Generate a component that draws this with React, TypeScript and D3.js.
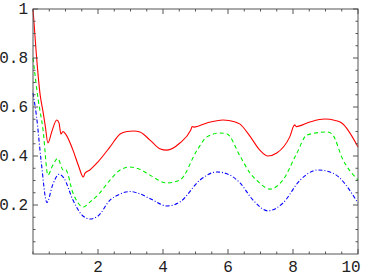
import React from "react";
import * as d3 from "d3";

// values
const redT = [0, 0.1, 0.22, 0.31, 0.38, 0.46, 0.58, 0.73, 0.8, 0.86, 0.92, 1.0, 1.23, 1.4, 1.55, 1.6, 1.75, 2.0, 2.37, 2.68, 2.89, 3.1, 3.29, 3.6, 3.9, 4.12, 4.52, 4.85, 4.9, 4.95, 5.35, 5.85, 6.2, 6.37, 6.68, 6.98, 7.23, 7.5, 7.9, 8.05, 8.1, 8.52, 8.98, 9.3, 9.5, 10];
const redV = [1.0, 0.82, 0.65, 0.58, 0.52, 0.453, 0.5, 0.547, 0.535, 0.49, 0.5, 0.49, 0.424, 0.36, 0.314, 0.33, 0.343, 0.376, 0.437, 0.49, 0.5, 0.502, 0.498, 0.465, 0.43, 0.424, 0.453, 0.505, 0.52, 0.518, 0.535, 0.547, 0.54, 0.53, 0.48, 0.424, 0.4, 0.412, 0.478, 0.527, 0.52, 0.539, 0.551, 0.545, 0.535, 0.437];

const greenT = [0, 0.16, 0.31, 0.46, 0.6, 0.76, 0.93, 1.0, 1.23, 1.55, 1.75, 2.0, 2.37, 2.68, 2.98, 3.3, 3.6, 4.12, 4.52, 5.05, 5.35, 5.75, 5.97, 6.37, 6.68, 6.89, 7.29, 7.69, 8.12, 8.43, 9.05, 9.2, 9.54, 10];
const greenV = [0.8, 0.63, 0.506, 0.322, 0.36, 0.39, 0.343, 0.345, 0.249, 0.192, 0.212, 0.241, 0.302, 0.343, 0.355, 0.345, 0.322, 0.29, 0.302, 0.424, 0.478, 0.494, 0.49, 0.4, 0.33, 0.3, 0.265, 0.302, 0.412, 0.486, 0.498, 0.49, 0.384, 0.302];

const blueT = [0, 0.11, 0.25, 0.43, 0.6, 0.8, 0.95, 1.23, 1.5, 1.75, 2.0, 2.37, 2.68, 2.98, 3.3, 3.69, 4.12, 4.52, 5.14, 5.66, 6.06, 6.37, 6.77, 7.23, 7.69, 8.22, 8.77, 9.23, 10];
const blueV = [0.657, 0.56, 0.38, 0.21, 0.28, 0.325, 0.31, 0.22, 0.16, 0.143, 0.155, 0.22, 0.245, 0.255, 0.245, 0.22, 0.196, 0.212, 0.302, 0.335, 0.322, 0.29, 0.22, 0.176, 0.208, 0.302, 0.343, 0.33, 0.208];

const xTickLabels = [2, 4, 6, 8, 10];
const yTickLabels = [0.2, 0.4, 0.6, 0.8, 1];

const W = 368;
const H = 277;
const frameColor = "#555";
const font = "'Liberation Mono', 'DejaVu Sans Mono', monospace";

export default function App() {
  const x = d3.scaleLinear().domain([0, 10]).range([33, 358]);
  const y = d3.scaleLinear().domain([0, 1]).range([254, 9]);

  const line = d3
    .line<[number, number]>()
    .x((d) => x(d[0]))
    .y((d) => y(d[1]))
    .curve(d3.curveMonotoneX);

  const pts = (t: number[], v: number[]) => t.map((tt, i) => [tt, v[i]] as [number, number]);

  const xMinor = d3.range(0, 10.01, 0.5);
  const yMinor = d3.range(0.05, 1.001, 0.05);
  const isMajorX = (t: number) => Math.abs(t / 2 - Math.round(t / 2)) < 1e-6 && t > 0;
  const isMajorY = (v: number) => Math.abs(v / 0.2 - Math.round(v / 0.2)) < 1e-6;

  const [x0, x1] = x.range();
  const [y0, y1] = y.range();

  return (
    <svg width={W} height={H} style={{ position: "absolute", left: 0, top: 0, background: "#fff" }}>
      {/* curves */}
      <path d={line(pts(redT, redV)) || ""} fill="none" stroke="#ff0000" strokeWidth={1.1} />
      <path d={line(pts(greenT, greenV)) || ""} fill="none" stroke="#00ee00" strokeWidth={1.1} strokeDasharray="4,3" />
      <path d={line(pts(blueT, blueV)) || ""} fill="none" stroke="#0000ff" strokeWidth={1.1} strokeDasharray="4,2,1,2" />

      {/* frame */}
      <rect x={x0} y={y1} width={x1 - x0} height={y0 - y1} fill="none" stroke={frameColor} strokeWidth={1} />

      {/* x ticks bottom & top */}
      {xMinor.map((t) => {
        const len = isMajorX(t) ? 5 : 2.5;
        return (
          <g key={"xt" + t}>
            <line x1={x(t)} x2={x(t)} y1={y0} y2={y0 - len} stroke={frameColor} />
            <line x1={x(t)} x2={x(t)} y1={y1} y2={y1 + len} stroke={frameColor} />
          </g>
        );
      })}
      {/* y ticks left & right */}
      {yMinor.map((v) => {
        const len = isMajorY(v) ? 5 : 2.5;
        return (
          <g key={"yt" + v}>
            <line x1={x0} x2={x0 + len} y1={y(v)} y2={y(v)} stroke={frameColor} />
            <line x1={x1} x2={x1 - len} y1={y(v)} y2={y(v)} stroke={frameColor} />
          </g>
        );
      })}

      {/* labels */}
      {xTickLabels.map((t) => (
        <text
          key={"xl" + t}
          x={Math.min(x(t), W - 17)}
          y={272}
          textAnchor="middle"
          fontFamily={font}
          fontSize={16}
          fill="#222"
        >
          {t}
        </text>
      ))}
      {yTickLabels.map((v) => (
        <text
          key={"yl" + v}
          x={28}
          y={y(v) + 5}
          textAnchor="end"
          fontFamily={font}
          fontSize={16}
          fill="#222"
        >
          {v === 1 ? "1" : v.toFixed(1)}
        </text>
      ))}
    </svg>
  );
}
